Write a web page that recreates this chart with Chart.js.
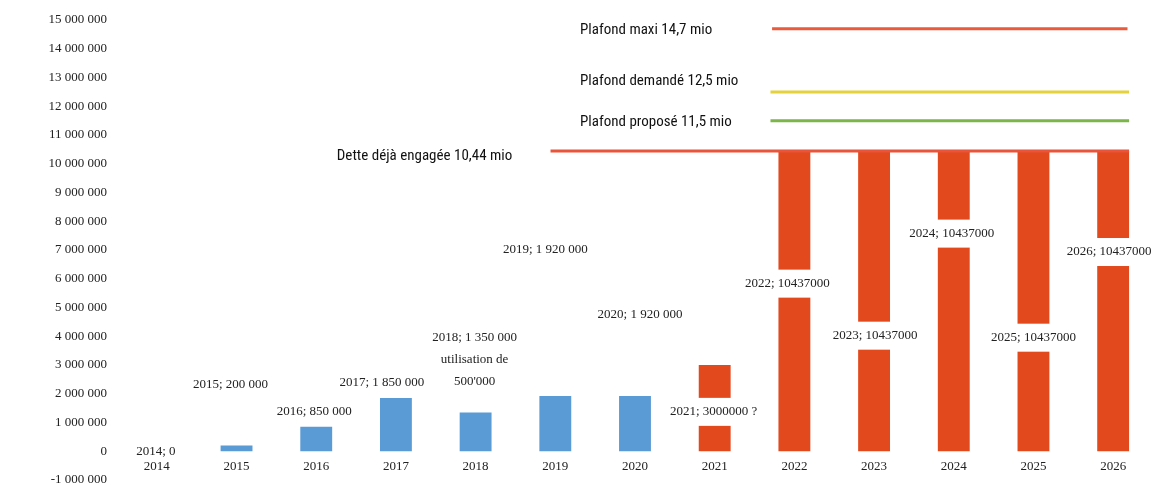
<!DOCTYPE html>
<html>
<head>
<meta charset="utf-8">
<script src="https://cdn.jsdelivr.net/npm/chart.js@4.4.1/dist/chart.umd.min.js"></script>
<style>
  html, body { margin: 0; padding: 0; background: #fff; }
  #wrap { width: 1153px; height: 485px; position: relative; }
</style>
</head>
<body>
<div id="wrap"><canvas id="debtChart"></canvas></div>
<script>
// Years on the x axis
const years = ['2014', '2015', '2016', '2017', '2018', '2019', '2020', '2021', '2022', '2023', '2024', '2025', '2026'];

// Debt already used (blue) and planned / engaged (red)
const usedDebt = [0, 200000, 850000, 1850000, 1350000, 1920000, 1920000, null, null, null, null, null, null];
const plannedDebt = [null, null, null, null, null, null, null, 3000000, 10437000, 10437000, 10437000, 10437000, 10437000];

// Text of the value labels
const barLabels = [
  '2014; 0', '2015; 200 000', '2016; 850 000', '2017; 1 850 000', '2018; 1 350 000',
  '2019; 1 920 000', '2020; 1 920 000', '2021; 3000000 ?', '2022; 10437000',
  '2023; 10437000', '2024; 10437000', '2025; 10437000', '2026; 10437000'
];
const barNotes = ['', '', '', '', 'utilisation de', '', '', '', '', '', '', '', ''];
const barNotes2 = ['', '', '', '', "500'000", '', '', '', '', '', '', '', ''];

// Ceilings (horizontal lines)
const ceilingNames = ['Plafond maxi 14,7 mio', 'Plafond demandé 12,5 mio', 'Plafond proposé 11,5 mio', 'Dette déjà engagée 10,44 mio'];
const ceilingValues = [14700000, 12500000, 11500000, 10440000];

// Layout of the labels (y anchor in axis units, x shift in px)
const labelAnchor = [0, 2310000, 1370000, 2380000, 3950000, 7020000, 4750000, 1370000, 5830000, 4020000, 7570000, 3950000, 6930000];
const labelShift = [-1, -6, -2, -14, -1, -10, 5, -1, -7, 1, -2, 0, -4];
const ceilingFrom = [7.72, 7.7, 7.7, 4.94];
const ceilingTo = [12.18, 12.2, 12.2, 12.2];
const ceilingTextAt = [5.31, 5.31, 5.31, 4.46];
const ceilingTextAlign = ['left', 'left', 'left', 'right'];
const ceilingTextDy = [2, -11, 2, 5];
const ceilingColors = ['#ec5a3c', '#e3d23c', '#7cb548', '#e8553a'];

const BLUE = '#5b9bd5';
const RED = '#e2491d';
const TICK_FONT = '"Liberation Serif", "DejaVu Serif", serif';
const NOTE_FONT = '"Liberation Sans Narrow", "Roboto Condensed", Roboto, sans-serif';

function spaced(v) {
  const s = String(Math.abs(v)).replace(/\B(?=(\d{3})+(?!\d))/g, ' ');
  return v < 0 ? '-' + s : s;
}

// Value labels on white boxes, and names of the ceilings
const labelPlugin = {
  id: 'debtLabels',
  afterDatasetsDraw(chart) {
    const { ctx } = chart;
    const x = chart.scales.x;
    const y = chart.scales.y;
    const xl = chart.scales.xl;
    ctx.save();
    ctx.textBaseline = 'middle';
    ctx.textAlign = 'center';
    ctx.font = '13px ' + TICK_FONT;

    barLabels.forEach((txt, i) => {
      const cx = x.getPixelForValue(i) + labelShift[i];
      const cy = y.getPixelForValue(labelAnchor[i]);
      const barTop = usedDebt[i] ?? plannedDebt[i];
      // label sitting inside a bar cuts a white gap through it
      const inside = barTop > labelAnchor[i];
      const lines = [txt, barNotes[i], barNotes2[i]].filter(t => t);
      lines.forEach((t, k) => {
        const ly = cy + k * 22;
        const w = ctx.measureText(t).width + 6;
        const h = inside ? 28 : 16;
        ctx.fillStyle = '#fff';
        ctx.fillRect(cx - w / 2, ly - h / 2, w, h);
        ctx.fillStyle = '#222';
        ctx.fillText(t, cx, ly);
      });
    });

    ctx.font = '15px ' + NOTE_FONT;
    ctx.fillStyle = '#111';
    ceilingNames.forEach((name, i) => {
      ctx.textAlign = ceilingTextAlign[i];
      ctx.fillText(name, xl.getPixelForValue(ceilingTextAt[i]), y.getPixelForValue(ceilingValues[i]) + ceilingTextDy[i]);
    });
    ctx.restore();
  }
};

const ceilingSets = ceilingNames.map((name, i) => ({
  type: 'line',
  label: name,
  data: [{ x: ceilingFrom[i], y: ceilingValues[i] }, { x: ceilingTo[i], y: ceilingValues[i] }],
  xAxisID: 'xl',
  yAxisID: 'y',
  borderColor: ceilingColors[i],
  borderWidth: 3,
  pointRadius: 0,
  order: 0
}));

new Chart(document.getElementById('debtChart'), {
  type: 'bar',
  data: {
    labels: years,
    datasets: [
      {
        label: 'Utilisé',
        data: usedDebt,
        backgroundColor: BLUE,
        grouped: false,
        barPercentage: 0.4,
        categoryPercentage: 1,
        order: 1
      },
      {
        label: 'Engagé',
        data: plannedDebt,
        backgroundColor: RED,
        grouped: false,
        barPercentage: 0.4,
        categoryPercentage: 1,
        order: 1
      },
      ...ceilingSets
    ]
  },
  options: {
    responsive: true,
    maintainAspectRatio: false,
    animation: false,
    layout: { padding: { top: 20, bottom: 5, left: 0, right: 0 } },
    plugins: {
      legend: { display: false },
      tooltip: { enabled: false }
    },
    scales: {
      x: {
        type: 'category',
        position: { y: 0 },
        offset: true,
        grid: { display: false, drawTicks: false },
        border: { display: false },
        ticks: {
          color: '#222',
          font: { family: TICK_FONT, size: 13 },
          padding: 8,
          maxRotation: 0,
          autoSkip: false
        }
      },
      xl: {
        type: 'linear',
        display: false,
        offset: false,
        grid: { offset: false },
        min: -0.5,
        max: 12.5
      },
      y: {
        min: -1000000,
        max: 15000000,
        grid: { display: false, drawTicks: false },
        border: { display: false },
        afterFit: (scale) => {
          scale.width = 117;
          scale.paddingTop = 0;
          scale.paddingBottom = 0;
        },
        ticks: {
          stepSize: 1000000,
          color: '#222',
          padding: 10,
          font: { family: TICK_FONT, size: 13 },
          callback: (v) => spaced(v)
        }
      }
    }
  },
  plugins: [labelPlugin]
});
</script>
</body>
</html>
